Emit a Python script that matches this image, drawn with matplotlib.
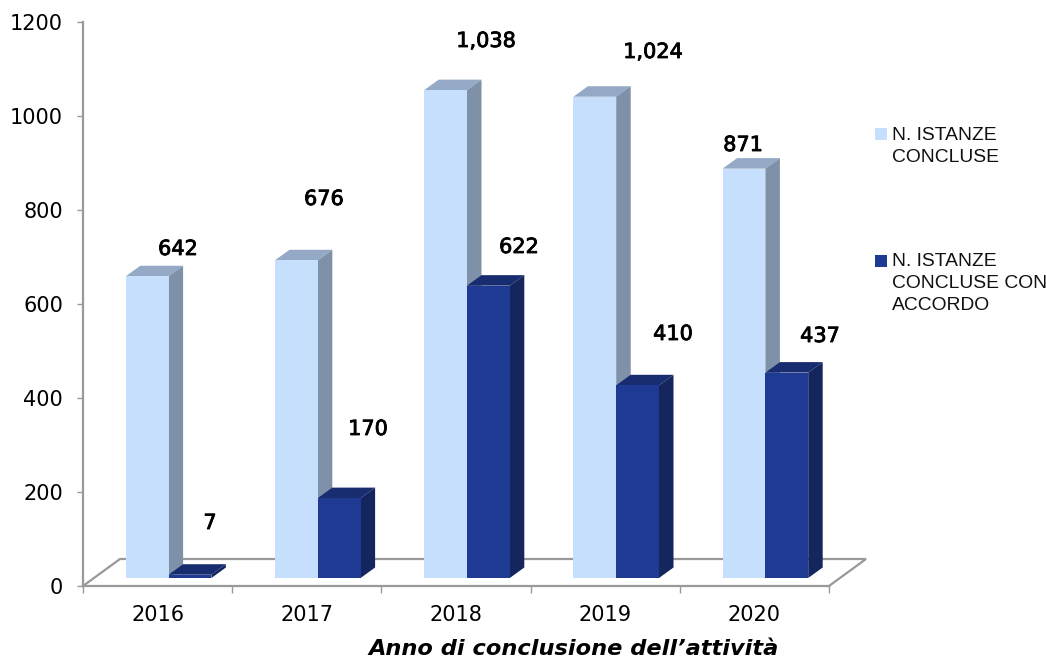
"""Pseudo-3D grouped columns: istanze concluse per anno."""
import matplotlib
matplotlib.use("Agg")
import matplotlib.pyplot as plt
import matplotlib.patheffects as pe
from matplotlib.patches import Rectangle

years = ["2016", "2017", "2018", "2019", "2020"]
concluse = [642, 676, 1038, 1024, 871]
con_accordo = [7, 170, 622, 410, 437]
y_ticks = [0, 200, 400, 600, 800, 1000, 1200]
legend_labels = ["N. ISTANZE\nCONCLUSE", "N. ISTANZE\nCONCLUSE CON\nACCORDO"]
x_title = "Anno di conclusione dell\u2019attivit\u00e0"

W, H = 1046, 659
LEFT, RIGHT, BOTTOM, TOP = 83, 829, 586, 22  # axes box in pixels
PX_X = (RIGHT - LEFT) / len(years)  # pixels per category
PX_Y = (BOTTOM - TOP) / 1200  # pixels per value

BAR_W = 42.8 / PX_X
GROUP_SHIFT = 11 / PX_X
DX, DY = 14.5 / PX_X, 10.5 / PX_Y  # bar depth
BASE = 8 / PX_Y  # bars stand inside the floor
FLOOR_DX, FLOOR_DY = 37 / PX_X, 27 / PX_Y

LIGHT = ("#C6DFFD", "#93A9C5", "#7F91A9")  # front, top, side
DARK = ("#1E3A92", "#182C70", "#15265F")
AXIS = "#999999"

# label centres in pixels, they float away from the bars in the original
conc_label_xy = [(178, 249), (324, 199), (486, 41), (653, 52), (743, 145)]
acc_label_xy = [(210, 523), (368, 429), (519, 247), (673, 334), (820, 336)]

plt.rcParams["font.family"] = ["DejaVu Sans"]

fig = plt.figure(figsize=(W / 100, H / 100), dpi=100)
ax = fig.add_axes([LEFT / W, 1 - BOTTOM / H, (RIGHT - LEFT) / W, (BOTTOM - TOP) / H])
ax.set_xlim(-0.5, len(years) - 0.5)
ax.set_ylim(0, 1200)
ax.patch.set_visible(False)


def px(x, y):
    return x / W, 1 - y / H


# floor outline
x0, x1 = -0.5, len(years) - 0.5
ax.plot([x0, x0 + FLOOR_DX, x1 + FLOOR_DX, x1], [0, FLOOR_DY, FLOOR_DY, 0],
        color=AXIS, lw=1.6, clip_on=False, zorder=1, solid_joinstyle="miter")


def column(x, value, colors, z):
    top = BASE + value
    ax.bar(x, value, BAR_W, bottom=BASE, align="edge", color=colors[0], zorder=z + 0.2,
           clip_on=False)
    ax.fill([x, x + DX, x + BAR_W + DX, x + BAR_W],
            [top, top + DY, top + DY, top], color=colors[1], lw=0, zorder=z, clip_on=False)
    ax.fill([x + BAR_W, x + BAR_W + DX, x + BAR_W + DX, x + BAR_W],
            [BASE, BASE + DY, top + DY, top], color=colors[2], lw=0, zorder=z, clip_on=False)


for i in range(len(years)):
    x_light = i + GROUP_SHIFT - BAR_W
    column(x_light, concluse[i], LIGHT, 2 + i)
    column(x_light + BAR_W, con_accordo[i], DARK, 2.5 + i)

for values, places in ((concluse, conc_label_xy), (con_accordo, acc_label_xy)):
    for v, (lx, ly) in zip(values, places):
        t = fig.text(*px(lx, ly), f"{v:,}", fontsize=15, ha="center", va="center", color="black")
        t.set_path_effects([pe.withStroke(linewidth=0.6, foreground="black")])

for side in ("top", "right"):
    ax.spines[side].set_visible(False)
for side in ("left", "bottom"):
    ax.spines[side].set_color(AXIS)
    ax.spines[side].set_linewidth(1.6)

ax.set_yticks(y_ticks)
ax.tick_params(axis="y", length=4.3, width=1, color=AXIS, pad=10, labelsize=15)
ax.set_xticks([i - 0.5 for i in range(len(years) + 1)], [""] * (len(years) + 1))
ax.set_xticks(range(len(years)), years, minor=True)
ax.tick_params(axis="x", which="major", length=5, width=1, color=AXIS)
ax.tick_params(axis="x", which="minor", length=0, pad=13.7, labelsize=15)

fig.text(*px(573.5, 649), x_title, fontsize=16.2, style="italic", fontweight="bold",
         ha="center", va="center", color="black")

# legend, placed by hand to keep the wide gap between the entries
for label, color, y_sw, y_txt in zip(legend_labels, (LIGHT[0], DARK[0]), (128, 255), (127, 253)):
    fig.patches.append(Rectangle(px(875, y_sw + 12), 12 / W, 12 / H, transform=fig.transFigure,
                                 facecolor=color, edgecolor="none", figure=fig))
    fig.text(*px(892, y_txt), label, family="Liberation Sans", fontsize=13.9, ha="left",
             va="top", linespacing=1.4, color="#111111")

fig.savefig("out.png", dpi=100)
plt.close(fig)
